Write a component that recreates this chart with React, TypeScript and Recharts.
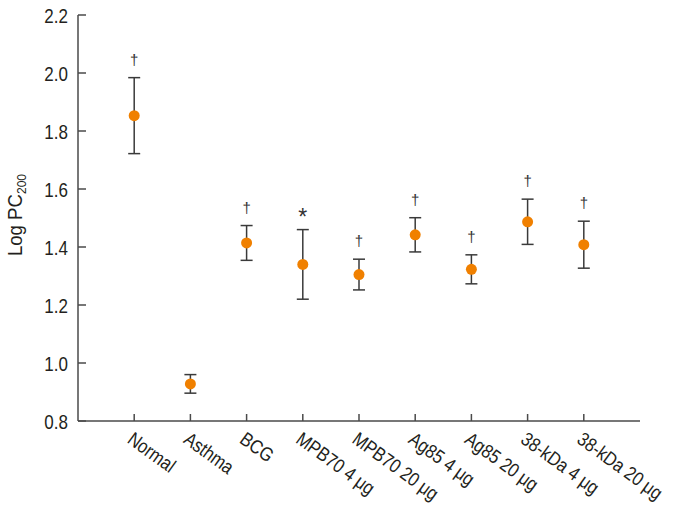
import React from 'react'
import { ScatterChart, Scatter, XAxis, YAxis, ErrorBar } from 'recharts'

const categories = ['Normal', 'Asthma', 'BCG', 'MPB70 4 μg', 'MPB70 20 μg', 'Ag85 4 μg', 'Ag85 20 μg', '38-kDa 4 μg', '38-kDa 20 μg']
const means = [1.853, 0.928, 1.414, 1.340, 1.305, 1.442, 1.323, 1.487, 1.408]
const errors = [0.131, 0.032, 0.060, 0.120, 0.053, 0.059, 0.050, 0.078, 0.081]
const marks = ['†', '', '†', '*', '†', '†', '†', '†', '†']
const yTicks = [0.8, 1.0, 1.2, 1.4, 1.6, 1.8, 2.0, 2.2]
const xTicks = [1, 2, 3, 4, 5, 6, 7, 8, 9]

// no condensed face installed, so Liberation Sans squeezed horizontally
const FONT = "'Liberation Sans', Arial, sans-serif"
const SQUEEZE = 0.85
const AXIS = '#4a4a4a'
const TEXT = '#231f20'

const points = categories.map((c, i) => ({ x: i + 1, y: means[i], err: errors[i], name: c }))
const markPoints = categories
  .map((c, i) => ({ x: i + 1, y: means[i] + errors[i], mark: marks[i] }))
  .filter(d => d.mark)

function XTick({ x, y, payload }: any) {
  const label = categories[payload.value - 1] ?? ''
  return (
    <text transform={`translate(${x - 8}, ${y}) rotate(36) scale(${SQUEEZE}, 1)`} textAnchor="start"
      fontFamily={FONT} fontSize={19.5} fill={TEXT}>
      {label}
    </text>
  )
}

function YTick({ x, y, payload }: any) {
  return (
    <text transform={`translate(${x}, ${y + 8}) scale(${SQUEEZE}, 1)`} textAnchor="end"
      fontFamily={FONT} fontSize={20} fill={TEXT}>
      {payload.value.toFixed(1)}
    </text>
  )
}

function MarkShape({ cx, cy, payload }: any) {
  const star = payload.mark === '*'
  return (
    <text x={cx} y={star ? cy - 5 : cy - 13} textAnchor="middle" fontFamily={FONT}
      fontSize={star ? 23 : 15} fill="#333">
      {payload.mark}
    </text>
  )
}

function YLabel({ viewBox }: any) {
  const cx = 22
  const cy = viewBox.y + viewBox.height / 2 - 3
  return (
    <text transform={`translate(${cx}, ${cy}) rotate(-90) scale(0.93, 1)`} textAnchor="middle"
      fontFamily={FONT} fontSize={20} fill={TEXT}>
      Log PC<tspan fontSize={13} dy={4}>200</tspan>
    </text>
  )
}

export default function App() {
  return (
    <div style={{ position: 'absolute', left: 0, top: 0, background: '#fff' }}>
      <ScatterChart width={675} height={510} margin={{ top: 15, right: 35, left: 0, bottom: 59 }}>
        <XAxis type="number" dataKey="x" domain={[0, 10]} ticks={xTicks} interval={0} height={30}
          stroke={AXIS} strokeWidth={1.5} tickSize={-7} tickMargin={28}
          tick={<XTick />} allowDataOverflow />
        <YAxis type="number" dataKey="y" domain={[0.8, 2.2]} ticks={yTicks} width={78}
          stroke={AXIS} strokeWidth={1.5} tickSize={-8} tickMargin={18}
          tick={<YTick />} label={<YLabel />} allowDataOverflow />
        <Scatter data={points} fill="#f08000" isAnimationActive={false}
          shape={(p: any) => <circle cx={p.cx} cy={p.cy} r={5.5} fill="#f08000" />}>
          <ErrorBar dataKey="err" direction="y" width={6} stroke="#3a3a3a" strokeWidth={1.5} isAnimationActive={false} />
        </Scatter>
        <Scatter data={markPoints} isAnimationActive={false} shape={<MarkShape />} />
      </ScatterChart>
    </div>
  )
}
